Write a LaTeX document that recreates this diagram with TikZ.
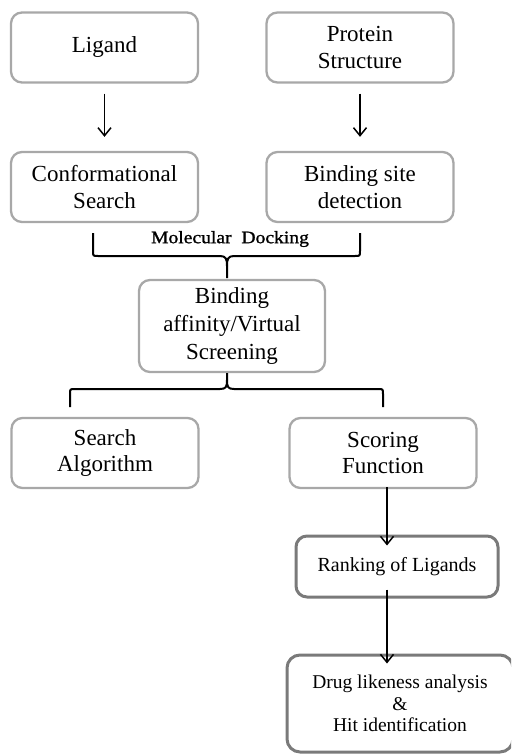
\documentclass[tikz,border=0pt]{standalone}
\usepackage{fontspec}
\setmainfont{Liberation Serif}
\usetikzlibrary{arrows.meta,calc}
\definecolor{boxlight}{HTML}{A8A8A8}
\definecolor{boxdark}{HTML}{7A7A7A}
\tikzset{
  stepbox/.style={draw=boxlight, line width=2.3pt, rounded corners=11pt,
    minimum width=187pt, minimum height=70pt, align=center, inner sep=0pt,
    font=\fontsize{23}{26.5}\selectfont},
  darkbox/.style={stepbox, draw=boxdark, line width=3pt},
  flow/.style={line width=1.5pt, -{Straight Barb[length=8pt,width=13pt,line width=1.5pt]}},
  brace/.style={line width=2pt, line join=round}
}
\begin{document}
\begin{tikzpicture}[x=1pt,y=-1pt]
  \useasboundingbox (0,0) rectangle (511,754);
  \begin{scope}
  \clip (0,0) rectangle (511,754);

  % input boxes
  \node[stepbox] (lig) at (104.5,47.5) {Ligand};
  \node[stepbox] (prot) at (360,47.5) {Protein\\Structure};
  \node[stepbox] (conf) at (104.5,187) {Conformational\\Search};
  \node[stepbox] (site) at (360,187) {Binding site\\detection};

  \draw[flow, shorten <=10pt, shorten >=14pt] (lig) -- (conf);
  \draw[flow, shorten <=10pt, shorten >=14pt] (prot) -- (site);

  % docking step
  \node[stepbox, minimum width=186pt, minimum height=92pt, font=\fontsize{23}{27.5}\selectfont]
    (aff) at (232,326) {Binding\\affinity/Virtual\\Screening};

  \coordinate (ul) at (93,233);
  \coordinate (ur) at (360,233);
  \draw[brace] (ul) -- (93,251) .. controls (93,256) .. (98,256) -- (220,256)
     .. controls (226,256) and (227,259) .. (227,266) -- (227,278);
  \draw[brace] (ur) -- (360,251) .. controls (360,256) .. (355,256) -- (234,256)
     .. controls (228,256) and (227,259) .. (227,266);
  \node[font=\fontsize{17.5}{20}\selectfont, inner sep=0pt] (dock) at (230,239)
    {\addfontfeatures{FakeStretch=1.12,FakeBold=1.2}Molecular\ \ Docking};

  % method split
  \node[stepbox] (search) at (105,453) {Search\\Algorithm};
  \node[stepbox] (score) at (383,453) {Scoring\\Function};

  \coordinate (lc) at (227,373);
  \coordinate (ll) at (70,407);
  \coordinate (lr) at (383,407);
  \draw[brace] (lc) -- (227,380) .. controls (227,387) and (226,389) .. (220,389) -- (75,389)
     .. controls (70,389) .. (70,394) -- (ll);
  \draw[brace] (227,380) .. controls (227,387) and (228,389) .. (234,389) -- (378,389)
     .. controls (383,389) .. (383,394) -- (lr);

  % ranking and hit identification
  \node[darkbox, minimum width=202pt, minimum height=61pt, font=\fontsize{20}{23}\selectfont]
    (rank) at (397,566.5) {Ranking of Ligands};
  \node[darkbox, minimum width=226pt, minimum height=97pt, font=\fontsize{19.5}{21.5}\selectfont,
    rounded corners=13pt] (drug) at (400,703.5) {Drug likeness analysis\\\&\\Hit identification};

  \coordinate (c1) at ([xshift=4pt]score.south);
  \draw[flow] ([yshift=2pt]c1) -- ([yshift=-11pt]c1 |- rank.north);
  \draw[flow] ([yshift=9pt]c1 |- rank.south) -- ([yshift=-10pt]c1 |- drug.north);
  \end{scope}
\end{tikzpicture}
\end{document}
